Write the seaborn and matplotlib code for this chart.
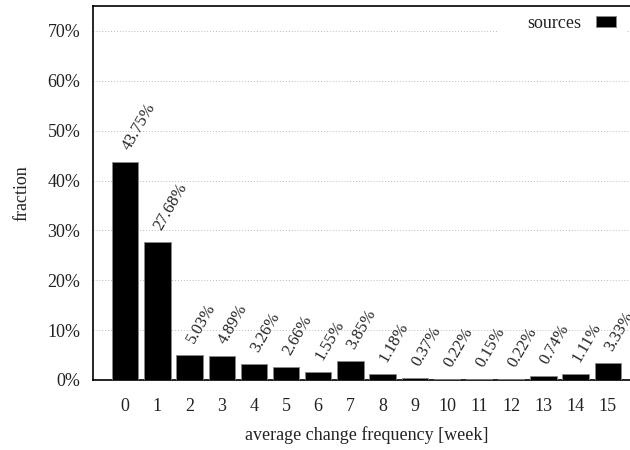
import matplotlib
matplotlib.use("Agg")
import matplotlib.pyplot as plt
import seaborn as sns
import pandas as pd
from matplotlib.ticker import FuncFormatter
from matplotlib.patches import Rectangle

categories = [str(i) for i in range(16)]
values = [43.75, 27.68, 5.03, 4.89, 3.26, 2.66, 1.55, 3.85, 1.18, 0.37,
          0.22, 0.15, 0.22, 0.74, 1.11, 3.33]
series_name = "sources"

sns.set_theme(style="white")
plt.rcParams['font.family'] = ['Liberation Serif', 'DejaVu Serif']
plt.rcParams['font.size'] = 13

df = pd.DataFrame({"week": categories, "fraction": values, "series": series_name})

fig = plt.figure(figsize=(6.3, 4.5), dpi=100)
ax_w = 640 - 93
ax = fig.add_axes([93/630, 1 - 380/450, ax_w/630, (380 - 6)/450])

sns.barplot(data=df, x="week", y="fraction", hue="series", palette=["black"],
            width=0.82, edgecolor="#888888", linewidth=0.6, ax=ax, zorder=3)

ax.set_ylim(0, 75)
ax.set_xlim(-1, 16)
ax.set_yticks(range(0, 80, 10))
ax.yaxis.set_major_formatter(FuncFormatter(lambda v, p: f"{int(v)}%"))
ax.grid(axis="y", linestyle=(0, (1, 2)), color="#bbbbbb", linewidth=0.7, zorder=0)
ax.set_axisbelow(True)

for s in ["left", "top", "bottom"]:
    ax.spines[s].set_color("black")
    ax.spines[s].set_linewidth(1.2)
ax.spines["right"].set_visible(False)

ax.tick_params(axis="both", direction="out", length=4, width=1, color="black",
               labelsize=13, labelcolor="#222222", pad=5)
ax.tick_params(axis="x", pad=9)

for i, v in enumerate(values):
    ax.annotate(f"{v:.2f}%", xy=(i, v), xytext=(3, 8), textcoords="offset points",
                rotation=60, rotation_mode="anchor", ha="left", va="baseline",
                fontsize=12, color="#222222")

ax.set_xlabel("average change frequency [week]", fontsize=13, color="#222222", labelpad=8)
ax.set_ylabel("fraction", fontsize=13, color="#222222")
ax.yaxis.set_label_coords((30 - 93) / ax_w, 0.5)

# white key background (hides grid behind the legend, as in the reference)
ax.add_patch(Rectangle((498 / 630, 1 - 37 / 450), 128 / 630, 29 / 450,
                       transform=fig.transFigure, facecolor="white",
                       edgecolor="none", zorder=1))

leg = ax.legend(loc="upper right", bbox_to_anchor=((625 - 93) / ax_w, 1.0),
                frameon=False,
                markerfirst=False, handlelength=1.1, handleheight=0.55,
                fontsize=13, borderaxespad=0.0, borderpad=0.5, handletextpad=0.8)
for t in leg.get_texts():
    t.set_color("#222222")

fig.savefig("out.png", dpi=100)
